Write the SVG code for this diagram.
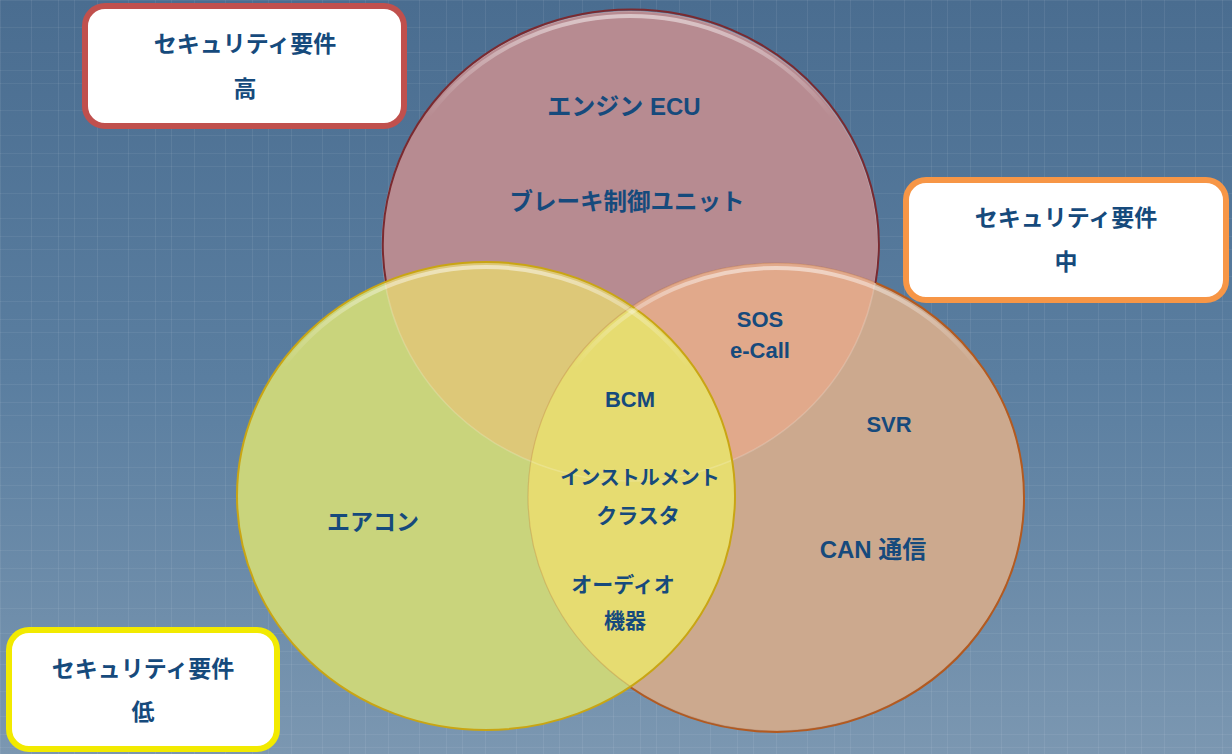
<svg xmlns="http://www.w3.org/2000/svg" width="1232" height="754" viewBox="0 0 1232 754">
<style>
.t{font-family:"Liberation Sans","Noto Sans CJK JP",sans-serif;font-weight:bold;fill:#164a7c;text-anchor:middle}
.box{fill:#ffffff;stroke-width:6}
</style>
<defs>
<linearGradient id="bg" x1="0" y1="0" x2="0" y2="1">
<stop offset="0" stop-color="#4a6d90"/>
<stop offset="0.5" stop-color="#5a7ea0"/>
<stop offset="1" stop-color="#7b97b1"/>
</linearGradient>
<pattern id="grid" width="97" height="83" patternUnits="userSpaceOnUse">
<path d="M0.5 0V83M31.5 0V83M58.5 0V83M74.5 0V83" stroke="#ffffff" stroke-opacity="0.07" stroke-width="1"/>
<path d="M0 0.5H97M0 27.5H97M0 52.5H97M0 70.5H97" stroke="#ffffff" stroke-opacity="0.06" stroke-width="1"/>
</pattern>
<ellipse id="eR" cx="630" cy="246" rx="248" ry="235"/>
<ellipse id="eY" cx="486" cy="496" rx="249" ry="234"/>
<ellipse id="eO" cx="776" cy="497" rx="248" ry="234"/>
<clipPath id="cR"><use href="#eR"/></clipPath>
<clipPath id="cO"><use href="#eO"/></clipPath>
<linearGradient id="hl" x1="0" y1="0" x2="0" y2="1">
<stop offset="0" stop-color="#ffffff" stop-opacity="0.5"/>
<stop offset="0.22" stop-color="#ffffff" stop-opacity="0"/>
</linearGradient>
</defs>
<rect width="1232" height="754" fill="url(#bg)"/>
<rect width="1232" height="754" fill="url(#grid)"/>

<g id="circles">
<g id="circle-high">
<use href="#eR" fill="#b78b91"/>
</g>
<g id="circle-mid">
<use href="#eO" fill="#cca98e"/>
<use href="#eO" fill="#e1a98b" clip-path="url(#cR)"/>
</g>
<g id="circle-low">
<use href="#eY" fill="#c9d47c"/>
<use href="#eY" fill="#ddc878" clip-path="url(#cR)"/>
<use href="#eY" fill="#e6dc71" clip-path="url(#cO)"/>
</g>
<g id="inner-lines" fill="none">
<use href="#eR" stroke="#ffffff" stroke-width="1.5" stroke-opacity="0.18"/>
<use href="#eO" stroke="#b5612a" stroke-width="1.2" stroke-opacity="0.25"/>
</g>
<g id="edges" fill="none">
<path d="M386 282 A248 235 0 1 1 875.5 283" stroke="#7a2a30" stroke-width="2"/>
<path d="M630 687 A248 234 0 0 0 1024 497 A248 234 0 0 0 876 283" stroke="#b35a20" stroke-width="2"/>
<use href="#eY" stroke="#c9a514" stroke-width="2"/>
</g>
<g id="highlights" fill="none" stroke="url(#hl)" stroke-width="4">
<ellipse cx="630" cy="248" rx="245" ry="232"/>
<ellipse cx="486" cy="498" rx="246" ry="231"/>
<ellipse cx="776" cy="499" rx="245" ry="231"/>
</g>
</g>

<g id="labels">
<text class="t" x="624" y="115" font-size="24">エンジン ECU</text>
<text class="t" x="627" y="210" font-size="23.5">ブレーキ制御ユニット</text>
<text class="t" x="760" y="327" font-size="22">SOS</text>
<text class="t" x="760" y="358" font-size="22">e-Call</text>
<text class="t" x="889" y="432" font-size="22">SVR</text>
<text class="t" x="630" y="407" font-size="22">BCM</text>
<text class="t" x="640" y="485" font-size="20">インストルメント</text>
<text class="t" x="638" y="523" font-size="21">クラスタ</text>
<text class="t" x="623" y="592" font-size="21">オーディオ</text>
<text class="t" x="625" y="628" font-size="21">機器</text>
<text class="t" x="373" y="530" font-size="23">エアコン</text>
<text class="t" x="873" y="558" font-size="24">CAN 通信</text>
</g>

<g id="box-high">
<rect class="box" x="85" y="6" width="319" height="120" rx="20" stroke="#c0504d"/>
<text class="t" x="245" y="52" font-size="23">セキュリティ要件</text>
<text class="t" x="245" y="97" font-size="23">高</text>
</g>
<g id="box-mid">
<rect class="box" x="906" y="180" width="320" height="120" rx="20" stroke="#f79646"/>
<text class="t" x="1066" y="226" font-size="23">セキュリティ要件</text>
<text class="t" x="1066" y="270" font-size="23">中</text>
</g>
<g id="box-low">
<rect class="box" x="9" y="630" width="268" height="119" rx="20" stroke="#f2ea00"/>
<text class="t" x="143" y="677" font-size="23">セキュリティ要件</text>
<text class="t" x="143" y="720" font-size="23">低</text>
</g>
</svg>
